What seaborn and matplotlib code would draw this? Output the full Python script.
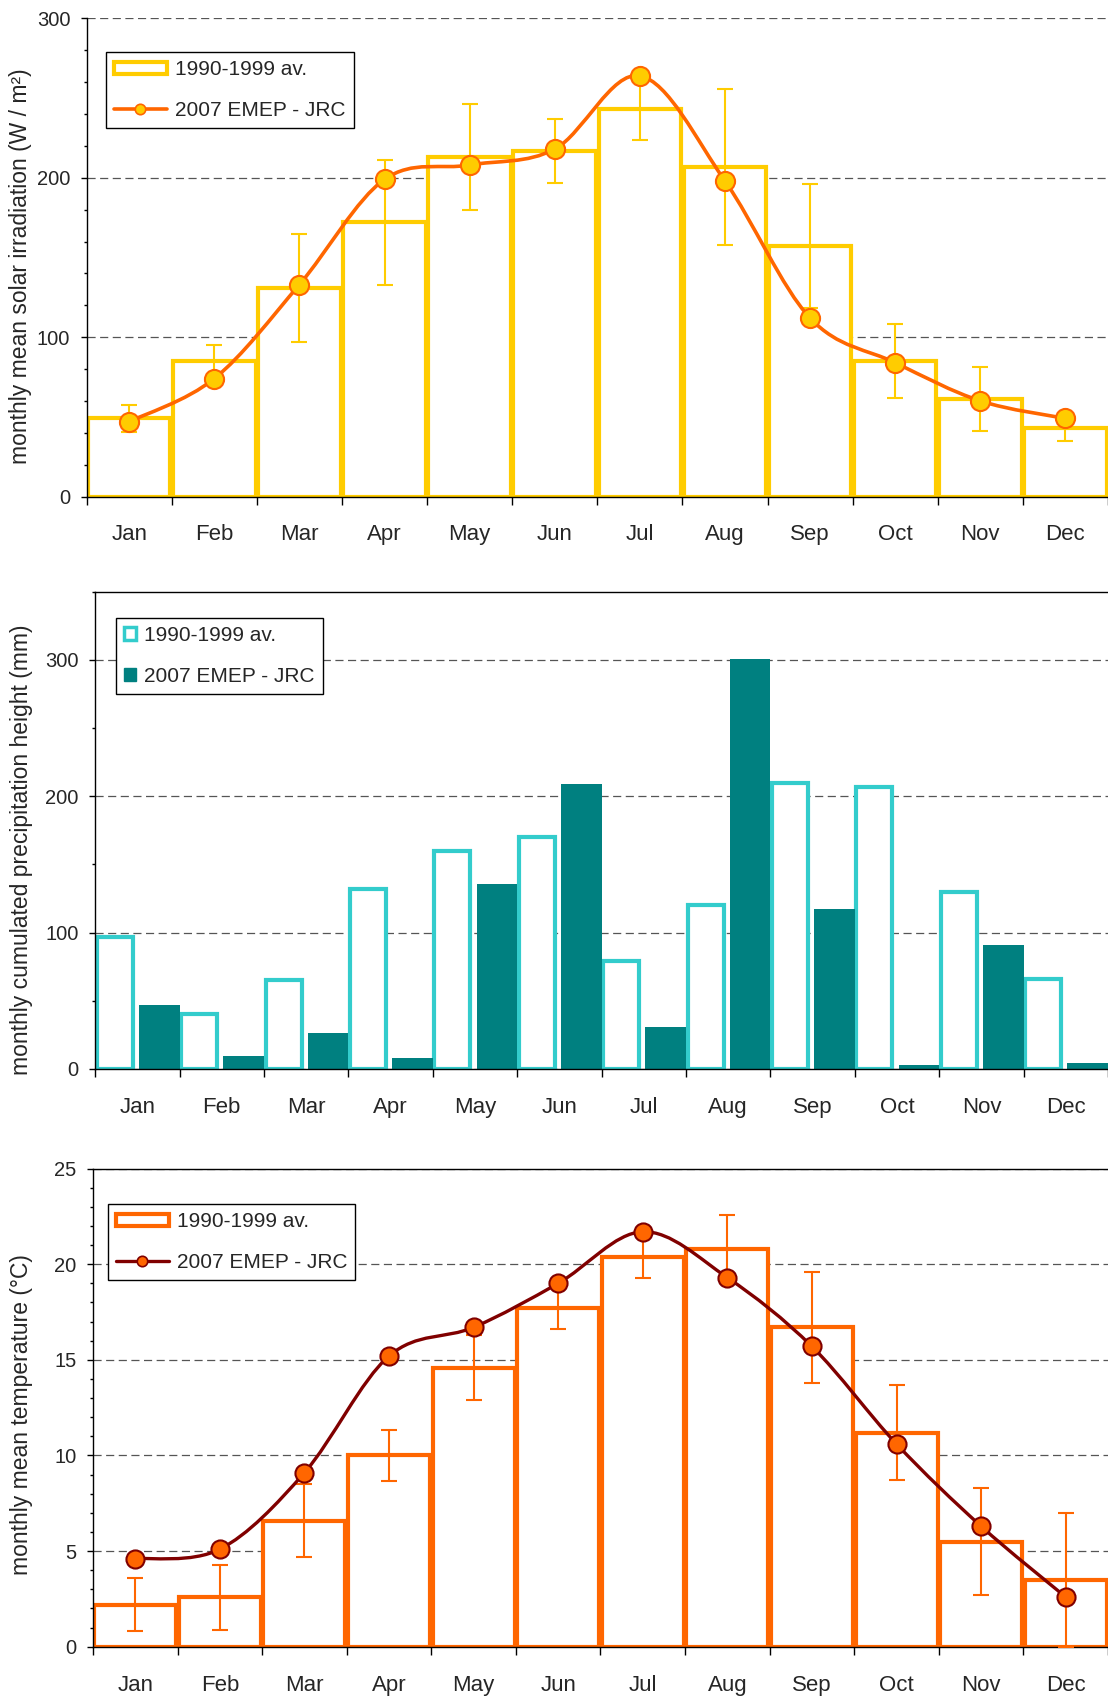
import numpy as np
import pandas as pd
import matplotlib
matplotlib.use("Agg")
import matplotlib.pyplot as plt
import seaborn as sns
from matplotlib.path import Path
from matplotlib.patches import PathPatch, Patch
from matplotlib.lines import Line2D
from matplotlib.ticker import MultipleLocator, FixedLocator

# ---------------- data ----------------
months = ["Jan", "Feb", "Mar", "Apr", "May", "Jun", "Jul", "Aug", "Sep", "Oct", "Nov", "Dec"]
series_names = ["1990-1999 av.", "2007 EMEP - JRC"]

solar_avg = [49, 85, 131, 172, 213, 217, 243, 207, 157, 85, 61, 43]
solar_avg_err = [8.5, 10, 34, 39, 33, 20, 19, 49, 39, 23, 20, 8]
solar_2007 = [47, 74, 133, 199, 208, 218, 264, 198, 112, 84, 60, 49]

precip_avg = [97, 40, 65, 132, 160, 170, 79, 120, 210, 207, 130, 66]
precip_2007 = [47, 9.5, 26, 8, 136, 209, 31, 301, 117, 3, 91, 4]

temp_avg = [2.2, 2.6, 6.6, 10.0, 14.6, 17.7, 20.4, 20.8, 16.7, 11.2, 5.5, 3.5]
temp_avg_err = [1.4, 1.7, 1.9, 1.35, 1.7, 1.1, 1.1, 1.8, 2.9, 2.5, 2.8, 3.5]
temp_2007 = [4.6, 5.1, 9.1, 15.2, 16.7, 19.0, 21.7, 19.3, 15.7, 10.6, 6.3, 2.6]

# ---------------- style ----------------
sns.set_style("ticks")
plt.rcParams["font.family"] = ["Liberation Sans", "DejaVu Sans"]
plt.rcParams["axes.linewidth"] = 1.0
FS_X = 16
FS_Y = 14.5
FS_LAB = 16.5
FS_LEG = 15

YELLOW = "#FFCC00"
ORANGE = "#FF6600"
DARKRED = "#800000"
CYAN = "#33CCCC"
TEAL = "#008080"
GRID = "#555555"

xpos = np.arange(len(months))


def smooth_path(x, y):
    """Excel-like smoothed line drawn as cubic Bezier through the data points."""
    x = np.asarray(x, float)
    y = np.asarray(y, float)
    n = len(x)
    verts = [(x[0], y[0])]
    codes = [Path.MOVETO]
    for i in range(n - 1):
        p0 = i - 1 if i > 0 else i
        p3 = i + 2 if i + 2 < n else i + 1
        c1 = (x[i] + (x[i + 1] - x[p0]) / 6.0, y[i] + (y[i + 1] - y[p0]) / 6.0)
        c2 = (x[i + 1] - (x[p3] - x[i]) / 6.0, y[i + 1] - (y[p3] - y[i]) / 6.0)
        verts += [c1, c2, (x[i + 1], y[i + 1])]
        codes += [Path.CURVE4] * 3
    return Path(verts, codes)


def style_axes(ax, ymax, major, minor, ylabel, label_xy, top_spine):
    ax.set_xlim(-0.5, 11.5)
    ax.set_ylim(0, ymax)
    ax.set_axisbelow(True)
    ax.yaxis.set_major_locator(MultipleLocator(major))
    ax.yaxis.set_minor_locator(MultipleLocator(minor))
    ax.xaxis.set_minor_locator(FixedLocator(np.arange(-0.5, 12, 1.0)))
    ax.grid(axis="y", which="major", color=GRID, linestyle=(0, (6.5, 3.6)), linewidth=0.9)
    ax.grid(axis="x", visible=False)
    ax.tick_params(axis="x", which="major", length=0, pad=20, labelsize=FS_X)
    ax.tick_params(axis="x", which="minor", length=6, width=1, direction="out", color="black")
    ax.tick_params(axis="y", which="major", length=4.3, width=1, pad=7.5, labelsize=FS_Y, color="black")
    ax.tick_params(axis="y", which="minor", length=2, width=1, color="black")
    ax.spines["right"].set_visible(False)
    ax.spines["top"].set_visible(top_spine)
    for s in ["left", "bottom", "top"]:
        ax.spines[s].set_color("black")
    ax.set_xlabel("")
    ax.set_ylabel(ylabel, fontsize=FS_LAB)
    ax.yaxis.set_label_coords(*label_xy)


def make_legend(ax, handles, anchor, hlen, hheight):
    leg = ax.legend(handles, series_names, loc="upper left", bbox_to_anchor=anchor,
                    borderaxespad=0, fontsize=FS_LEG, frameon=True, fancybox=False,
                    edgecolor="black", framealpha=1, handlelength=hlen, handleheight=hheight,
                    labelspacing=1.05, borderpad=0.38, handletextpad=0.4)
    leg.get_frame().set_linewidth(1.0)
    leg.set_zorder(10)
    return leg


fig = plt.figure(figsize=(11.08, 17.04), dpi=100)
ax1 = fig.add_axes([0.0782, 0.7086, 0.9218, 0.2806])
ax2 = fig.add_axes([0.0859, 0.3727, 0.9141, 0.2800])
ax3 = fig.add_axes([0.0839, 0.0336, 0.9161, 0.2806])

# ---------------- panel 1: solar irradiation ----------------
sns.barplot(x=months, y=solar_avg, order=months, color="white", saturation=1,
            edgecolor=YELLOW, linewidth=3.0, width=0.97, ax=ax1, zorder=1)
ax1.errorbar(xpos, solar_avg, yerr=solar_avg_err, fmt="none", ecolor=YELLOW,
             elinewidth=1.5, capsize=6, capthick=1.5, zorder=3)
ax1.add_patch(PathPatch(smooth_path(xpos, solar_2007), facecolor="none",
                        edgecolor=ORANGE, linewidth=2.6, zorder=4, capstyle="round"))
sns.scatterplot(x=xpos, y=solar_2007, s=190, color=YELLOW, edgecolor=ORANGE,
                linewidth=1.5, ax=ax1, zorder=5, legend=False)
style_axes(ax1, 300, 100, 20, "monthly mean solar irradiation (W / m²)", (-0.0537, 0.482), False)
h1 = [Patch(facecolor="white", edgecolor=YELLOW, linewidth=3.0),
      Line2D([], [], color=ORANGE, linewidth=2.6, marker="o", markersize=7.5,
             markerfacecolor=YELLOW, markeredgecolor=ORANGE, markeredgewidth=1.2)]
make_legend(ax1, h1, (0.0188, 0.929), 2.55, 0.5)

# ---------------- panel 2: precipitation ----------------
df_p = pd.DataFrame({
    "month": months * 2,
    "value": precip_avg + precip_2007,
    "series": [series_names[0]] * 12 + [series_names[1]] * 12,
})
sns.barplot(data=df_p, x="month", y="value", hue="series", order=months,
            hue_order=series_names, palette={series_names[0]: "white", series_names[1]: TEAL},
            saturation=1, width=1.0, dodge=True, legend=False, linewidth=0, ax=ax2, zorder=1)
for p in ax2.containers[0]:
    p.set_x(p.get_x() + 0.02)
    p.set_width(0.425)
    p.set_facecolor("white")
    p.set_edgecolor(CYAN)
    p.set_linewidth(3.0)
for p in ax2.containers[1]:
    p.set_x(p.get_x() + 0.02)
    p.set_width(0.48)
    p.set_edgecolor("none")
style_axes(ax2, 350, 100, 50, "monthly cumulated precipitation height (mm)", (-0.0614, 0.46), True)
h2 = [Patch(facecolor="white", edgecolor=CYAN, linewidth=2.5),
      Patch(facecolor=TEAL, edgecolor=TEAL)]
make_legend(ax2, h2, (0.0202, 0.9445), 0.6, 0.6)

# ---------------- panel 3: temperature ----------------
sns.barplot(x=months, y=temp_avg, order=months, color="white", saturation=1,
            edgecolor=ORANGE, linewidth=3.0, width=0.97, ax=ax3, zorder=1)
ax3.errorbar(xpos, temp_avg, yerr=temp_avg_err, fmt="none", ecolor=ORANGE,
             elinewidth=1.5, capsize=6, capthick=1.5, zorder=3)
ax3.add_patch(PathPatch(smooth_path(xpos, temp_2007), facecolor="none",
                        edgecolor=DARKRED, linewidth=2.4, zorder=4, capstyle="round"))
sns.scatterplot(x=xpos, y=temp_2007, s=170, color=ORANGE, edgecolor=DARKRED,
                linewidth=1.5, ax=ax3, zorder=5, legend=False)
style_axes(ax3, 25, 5, 1, "monthly mean temperature (°C)", (-0.059, 0.486), True)
h3 = [Patch(facecolor="white", edgecolor=ORANGE, linewidth=3.0),
      Line2D([], [], color=DARKRED, linewidth=2.4, marker="o", markersize=7.5,
             markerfacecolor=ORANGE, markeredgecolor=DARKRED, markeredgewidth=1.2)]
make_legend(ax3, h3, (0.0145, 0.9253), 2.55, 0.5)

for ax in (ax1, ax2, ax3):
    ax.set_xticks(xpos)
    ax.set_xticklabels(months)
    ax.set_xlim(-0.5, 11.5)

fig.savefig("out.png", dpi=100)
